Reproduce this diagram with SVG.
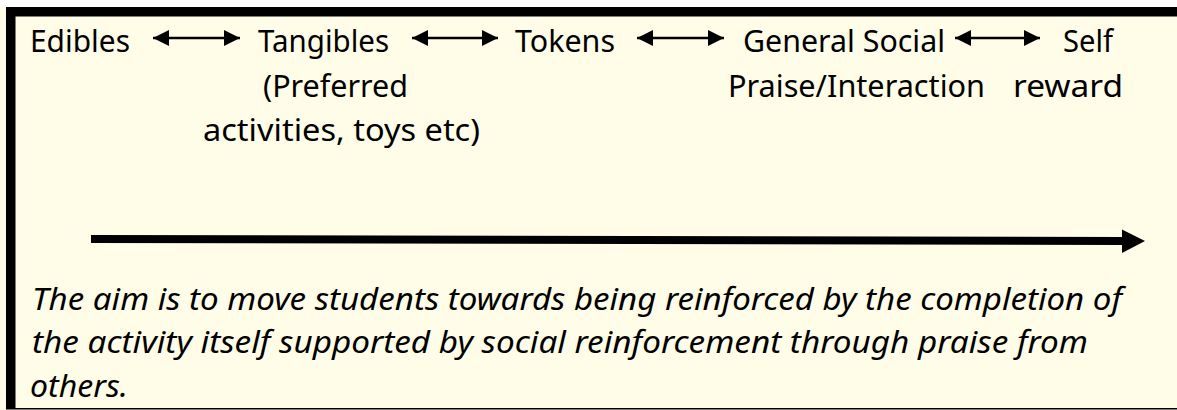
<svg xmlns="http://www.w3.org/2000/svg" width="1177" height="410" viewBox="0 0 1177 410">
  <defs>
    <style>
      .lbl { font-family: "Noto Sans", "Liberation Sans", sans-serif; font-size: 31px; fill: #000; }
      .note { font-family: "Noto Sans", "Liberation Sans", sans-serif; font-size: 31px; font-style: italic; fill: #000; }
      .dbl { stroke: #000; stroke-width: 2.5; fill: none; marker-start: url(#headL); marker-end: url(#headR); }
    </style>
    <marker id="headR" markerUnits="userSpaceOnUse" markerWidth="17" markerHeight="17" refX="16" refY="8.5" orient="auto">
      <path d="M0,0.5 L16,8.5 L0,16.5 Z" fill="#000"/>
    </marker>
    <marker id="headL" markerUnits="userSpaceOnUse" markerWidth="17" markerHeight="17" refX="1" refY="8.5" orient="auto">
      <path d="M17,0.5 L1,8.5 L17,16.5 Z" fill="#000"/>
    </marker>
  </defs>

  <!-- page -->
  <rect x="0" y="0" width="1177" height="410" fill="#FFFDE8"/>
  <rect x="0" y="0" width="1177" height="7" fill="#FFFFFF"/>

  <!-- frame -->
  <g id="frame" fill="#000">
    <rect x="6" y="7" width="1171" height="9.5"/>
    <rect x="6" y="7" width="9.5" height="402"/>
    <rect x="6" y="408" width="1171" height="1.5"/>
  </g>

  <!-- reinforcer stages -->
  <g id="edibles">
    <text class="lbl" x="30" y="52" textLength="100" lengthAdjust="spacingAndGlyphs">Edibles</text>
  </g>
  <g id="tangibles">
    <text class="lbl" x="258" y="52" textLength="131" lengthAdjust="spacingAndGlyphs">Tangibles</text>
    <text class="lbl" x="263" y="97" textLength="145" lengthAdjust="spacingAndGlyphs">(Preferred</text>
    <text class="lbl" x="203" y="141" textLength="277" lengthAdjust="spacingAndGlyphs">activities, toys etc)</text>
  </g>
  <g id="tokens">
    <text class="lbl" x="515" y="52" textLength="100" lengthAdjust="spacingAndGlyphs">Tokens</text>
  </g>
  <g id="social">
    <text class="lbl" x="743" y="52" textLength="202" lengthAdjust="spacingAndGlyphs">General Social</text>
    <text class="lbl" x="728" y="97" textLength="257" lengthAdjust="spacingAndGlyphs">Praise/Interaction</text>
  </g>
  <g id="self-reward">
    <text class="lbl" x="1063" y="52" textLength="50" lengthAdjust="spacingAndGlyphs">Self</text>
    <text class="lbl" x="1013" y="97" textLength="110" lengthAdjust="spacingAndGlyphs">reward</text>
  </g>

  <!-- connectors -->
  <g id="connectors">
    <line class="dbl" x1="153" y1="38" x2="240" y2="38"/>
    <line class="dbl" x1="412" y1="38" x2="498" y2="38"/>
    <line class="dbl" x1="637" y1="38" x2="724" y2="38"/>
    <line class="dbl" x1="955" y1="38" x2="1040" y2="38"/>
    <!-- progression arrow -->
    <line x1="91" y1="239" x2="1123" y2="241" stroke="#000" stroke-width="8"/>
    <path d="M1122,229.5 L1145,241 L1122,253 Z" fill="#000"/>
  </g>

  <!-- note -->
  <g id="note">
    <text class="note" x="32" y="310" textLength="1090" lengthAdjust="spacingAndGlyphs">The aim is to move students towards being reinforced by the completion of</text>
    <text class="note" x="32" y="353" textLength="1056" lengthAdjust="spacingAndGlyphs">the activity itself supported by social reinforcement through praise from</text>
    <text class="note" x="30" y="397" textLength="98" lengthAdjust="spacingAndGlyphs">others.</text>
  </g>
</svg>
